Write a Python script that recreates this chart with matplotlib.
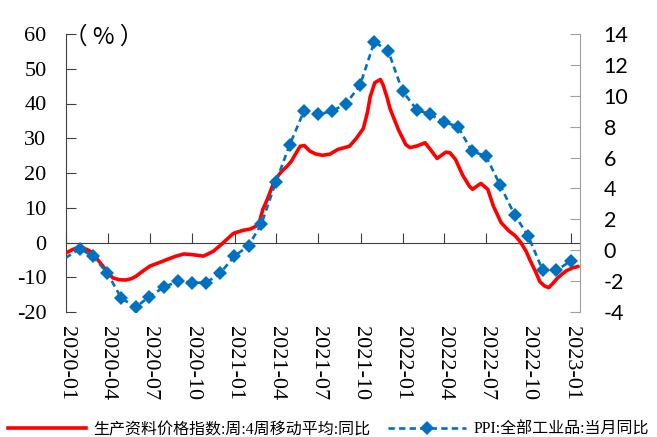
import matplotlib
matplotlib.use("Agg")
import matplotlib.pyplot as plt
import pandas as pd
from matplotlib.lines import Line2D

# ---------------- data ----------------
red_dates = [
    "2020-01-01", "2020-01-16", "2020-02-01", "2020-02-15", "2020-02-29", "2020-03-10",
    "2020-03-21", "2020-04-01", "2020-04-12", "2020-04-25", "2020-05-10", "2020-05-22",
    "2020-06-01", "2020-06-16", "2020-07-01", "2020-07-19", "2020-08-07", "2020-08-25",
    "2020-09-13", "2020-10-01", "2020-10-25", "2020-11-04", "2020-11-16", "2020-12-01",
    "2020-12-15", "2020-12-29", "2021-01-07", "2021-01-19", "2021-02-04", "2021-02-15",
    "2021-02-23", "2021-03-03", "2021-03-13", "2021-03-26", "2021-04-04", "2021-04-13",
    "2021-04-25", "2021-05-04", "2021-05-13", "2021-05-23", "2021-06-01", "2021-06-13",
    "2021-06-25", "2021-07-10", "2021-07-26", "2021-08-13", "2021-09-07", "2021-09-22",
    "2021-10-07", "2021-10-16", "2021-10-22", "2021-11-01", "2021-11-13", "2021-11-19",
    "2021-11-28", "2021-12-04", "2021-12-22", "2022-01-07", "2022-01-16", "2022-02-01",
    "2022-02-18", "2022-03-04", "2022-03-16", "2022-04-04", "2022-04-13", "2022-04-25",
    "2022-05-10", "2022-05-25", "2022-06-01", "2022-06-10", "2022-06-19", "2022-07-04",
    "2022-07-16", "2022-08-02", "2022-08-19", "2022-09-01", "2022-09-13", "2022-09-25",
    "2022-10-04", "2022-10-16", "2022-10-25", "2022-11-04", "2022-11-13", "2022-11-22",
    "2022-12-01", "2022-12-13", "2022-12-22", "2023-01-04", "2023-01-16",
]
red_values = [
    -3.0, -2.0, -1.2, -2.0, -3.0, -5.0,
    -6.8, -8.8, -10.2, -10.7, -10.8, -10.4,
    -9.7, -8.2, -6.8, -5.9, -4.9, -4.0,
    -3.3, -3.5, -3.9, -3.3, -2.5, -0.8,
    0.9, 2.6, 3.0, 3.5, 3.9, 4.6,
    5.7, 9.5, 12.5, 17.0, 19.0, 20.5,
    22.0, 23.4, 25.5, 27.7, 27.9, 26.3,
    25.5, 25.1, 25.4, 26.8, 27.7, 30.0,
    32.8, 37.5, 42.0, 46.0, 46.9, 45.3,
    41.5, 38.5, 32.5, 28.2, 27.3, 27.8,
    28.7, 26.3, 24.2, 26.0, 25.8, 23.9,
    19.5, 16.2, 15.3, 16.2, 17.0, 15.3,
    10.5, 5.7, 3.3, 2.0, 0.1, -2.5,
    -5.2, -8.5, -11.3, -12.5, -13.0, -11.8,
    -10.4, -9.0, -8.1, -7.3, -6.9,
]

ppi_dates = pd.date_range("2019-12-31", "2022-12-31", freq="ME")
ppi_values = [
    -0.5,
    0.1, -0.4, -1.5, -3.1, -3.7, -3.0, -2.4, -2.0, -2.1, -2.1, -1.5, -0.4,
    0.3, 1.7, 4.4, 6.8, 9.0, 8.8, 9.0, 9.5, 10.7, 13.5, 12.9, 10.3,
    9.1, 8.8, 8.3, 8.0, 6.4, 6.1, 4.2, 2.3, 0.9, -1.3, -1.3, -0.7,
]

red_label = "生产资料价格指数:周:4周移动平均:同比"
ppi_label = "PPI:全部工业品:当月同比"

x_ticks = pd.date_range("2020-01-01", "2023-01-01", freq="3MS")
x_tick_labels = [d.strftime("%Y-%m") for d in x_ticks]
left_ticks = [-20, -10, 0, 10, 20, 30, 40, 50, 60]
right_ticks = [-4, -2, 0, 2, 4, 6, 8, 10, 12, 14]

# ---------------- figure ----------------
W, H = 657, 437
fig = plt.figure(figsize=(W / 100, H / 100), dpi=100)
ax = fig.add_axes([66 / W, 125 / H, (580 - 66) / W, (312 - 34) / H])
ax2 = ax.twinx()

RED = "#FF0000"
BLUE = "#0070C0"
DARK = "#404040"
GREY = "#A0A0A0"

ax.plot(pd.to_datetime(red_dates), red_values, color=RED, lw=2.6,
        solid_joinstyle="round", solid_capstyle="round", zorder=3)
ax2.plot(ppi_dates, ppi_values, color=BLUE, lw=1.9, ls=(0, (2.4, 1.6)),
         marker="D", markersize=7.3, markevery=list(range(1, len(ppi_values))),
         markeredgewidth=0, zorder=3)

ax.set_xlim(pd.Timestamp("2020-01-01"), pd.Timestamp("2023-01-20"))
ax.set_ylim(-20, 60)
ax2.set_ylim(-4, 14)

# spines
for s in ["top", "right"]:
    ax.spines[s].set_visible(False)
ax.spines["left"].set_color(DARK)
ax.spines["bottom"].set_position(("data", 0))
ax.spines["bottom"].set_color(DARK)
for s in ["top", "left", "bottom"]:
    ax2.spines[s].set_visible(False)
ax2.spines["right"].set_color(GREY)

# x ticks: on zero line for ax (no labels), labels at bottom via ax2
ax.set_xticks(x_ticks)
ax.tick_params(axis="x", direction="in", length=7, color=DARK, labelbottom=False)
ax2.xaxis.set_visible(True)
ax2.set_xticks(x_ticks, labels=x_tick_labels, fontfamily="Liberation Serif",
               fontsize=16, rotation=-90)
ax2.tick_params(axis="x", length=0, pad=10, labelbottom=True)

# y ticks
ax.set_yticks(left_ticks, labels=[str(v) for v in left_ticks],
              fontfamily="Liberation Serif", fontsize=16)
ax.tick_params(axis="y", direction="in", length=7, color=DARK, pad=14)
ax2.set_yticks(right_ticks, labels=[str(v) for v in right_ticks],
               fontfamily="Lato", fontsize=15.5)
ax2.tick_params(axis="y", direction="in", length=7, color=GREY, pad=17)

# unit label
fig.text(64 / W, 1 - 37 / H, "（ % ）", fontfamily=["Noto Sans CJK SC"], fontsize=17,
         ha="left", va="center")

# legend
handles = [
    Line2D([], [], color=RED, lw=2.6),
    Line2D([], [], color=BLUE, lw=1.9, ls=(0, (2.4, 1.6)), marker="D",
           markersize=7.3, markeredgewidth=0),
]
fig.legend(handles, [red_label, ppi_label], loc="lower center",
           bbox_to_anchor=(0.5, -0.035), ncol=2, frameon=False,
           prop={"family": ["Liberation Serif", "Noto Sans CJK SC"], "size": 11.5},
           handlelength=4.9, handletextpad=0.45, columnspacing=1.1)

fig.savefig("out.png", dpi=100)
